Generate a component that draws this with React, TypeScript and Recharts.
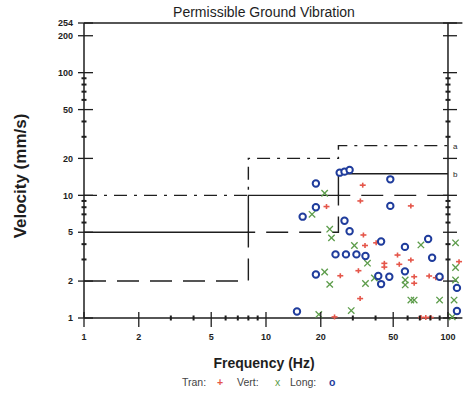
import React from 'react'
import {
  ComposedChart, Line, Scatter, XAxis, YAxis, ReferenceLine, ReferenceDot,
} from 'recharts'

// axis ticks
const FREQ_TICKS = [1, 2, 3, 4, 5, 6, 7, 8, 9, 10, 20, 30, 40, 50, 60, 70, 80, 90, 100]
const FREQ_LABELS = [1, 2, 5, 10, 20, 50, 100]
const VEL_TICKS = [1, 2, 3, 4, 5, 6, 7, 8, 9, 10, 20, 30, 40, 50, 60, 70, 80, 90, 100, 200, 254]
const VEL_LABELS = [1, 2, 5, 10, 20, 50, 100, 200, 254]

// limit curves [Hz, mm/s]
const LIMIT_A: [number, number][] = [[1, 10], [8, 10], [8, 20], [25, 20], [25, 25.4], [100, 25.4]]
const LIMIT_B: [number, number][] = [[1, 5], [8, 5], [8, 10], [25, 10], [25, 15], [100, 15]]
const LIMIT_C: [number, number][] = [[1, 2], [8, 2], [8, 5], [25, 5], [25, 10], [100, 10]]

// measured peaks [Hz, mm/s]
const TRAN: [number, number][] = [
  [34.0, 12.1], [33.0, 9.0], [21.5, 8.1], [62.5, 8.2], [34.3, 4.75], [35.0, 3.9],
  [40.3, 4.1], [52.8, 3.26], [44.7, 2.79], [44.7, 2.6], [54.0, 2.74], [62.5, 2.97],
  [65.2, 2.17], [65.2, 1.92], [78.8, 2.2], [85.7, 2.13], [91.2, 2.1], [115, 2.88],
  [32.2, 2.43], [25.6, 2.21], [32.9, 1.44], [23.8, 1.02], [71.0, 1.01], [75.5, 1.01],
  [80.4, 1.01],
]
const VERT: [number, number][] = [
  [21.0, 10.4], [17.9, 7.0], [22.4, 5.3], [22.9, 4.5], [30.6, 3.9], [36.1, 2.8],
  [21.0, 2.37], [22.4, 1.88], [35.2, 1.91], [39.4, 2.12], [58.2, 2.04], [58.2, 1.86],
  [62.5, 1.4], [65.2, 1.4], [71.0, 3.94], [89.9, 1.4], [110, 4.1], [110, 2.58],
  [110, 2.04], [108, 1.4], [105.6, 1.02], [29.4, 1.15], [19.5, 1.07],
]
const LONG: [number, number][] = [
  [18.8, 12.5], [25.4, 15.3], [27.0, 15.6], [28.8, 16.1], [48.2, 13.5], [48.2, 8.2],
  [18.8, 8.0], [15.9, 6.7], [27.0, 6.2], [28.8, 5.1], [42.9, 4.2], [58.0, 3.8],
  [77.8, 4.4], [24.1, 3.3], [27.5, 3.3], [31.4, 3.3], [35.2, 3.2], [81.8, 3.1],
  [18.8, 2.26], [41.4, 2.2], [47.6, 2.17], [42.9, 1.89], [58.0, 2.4], [89.9, 2.17],
  [112, 1.76], [14.8, 1.13], [112, 1.14],
]

const INK = '#1e1e1e'
const RED = '#e5564a'
const GREEN = '#5c9c4a'
const BLUE = '#1f3c9c'
const FONT = '"Liberation Sans", Arial, sans-serif'

const pts = (a: [number, number][]) => a.map(([f, v]) => ({ f, v }))

function BottomTick({ x, y, payload }: any) {
  const major = FREQ_LABELS.includes(payload.value)
  return (
    <g>
      <line x1={x} x2={x} y1={y - (major ? 6 : 2.5)} y2={y + (major ? 9 : 2.5)}
        stroke={INK} strokeWidth={major ? 1.3 : 2} />
      {major && (
        <text x={x} y={y + 21.5} textAnchor="middle" fontSize={9} fontWeight="bold"
          fill={INK} fontFamily={FONT}>{payload.value}</text>
      )}
    </g>
  )
}

function TopTick({ x, y, payload }: any) {
  const major = FREQ_LABELS.includes(payload.value)
  return (
    <line x1={x} x2={x} y1={y - (major ? 6 : 2.5)} y2={y + (major ? 10 : 2.5)}
      stroke={INK} strokeWidth={major ? 1.3 : 2} />
  )
}

function LeftTick({ x, y, payload }: any) {
  const major = VEL_LABELS.includes(payload.value)
  return (
    <g>
      <line x1={x - (major ? 6 : 2.5)} x2={x + (major ? 9 : 2.5)} y1={y} y2={y}
        stroke={INK} strokeWidth={major ? 1.3 : 2} />
      {major && (
        <text x={x - 11} y={y + 3.2} textAnchor="end" fontSize={9} fontWeight="bold"
          fill={INK} fontFamily={FONT}>{payload.value}</text>
      )}
    </g>
  )
}

const rightTick = (major: boolean) => (p: any) => (
  <line x1={p.cx - (major ? 5 : 2.5)} x2={p.cx + (major ? 9 : 2.5)} y1={p.cy} y2={p.cy}
    stroke={INK} strokeWidth={major ? 1.3 : 2} />
)

const endLabel = (t: string) => (p: any) => (
  <text x={p.cx + 5} y={p.cy + 3} fontSize={8} fill={INK} fontFamily={FONT}>{t}</text>
)

const PlusShape = ({ cx, cy }: any) => (
  <g stroke={RED} strokeWidth={1.6}>
    <line x1={cx - 3} x2={cx + 3} y1={cy} y2={cy} />
    <line x1={cx} x2={cx} y1={cy - 2.5} y2={cy + 2.5} />
  </g>
)

const CrossShape = ({ cx, cy }: any) => (
  <g stroke={GREEN} strokeWidth={1.3}>
    <line x1={cx - 3.2} x2={cx + 3.2} y1={cy - 3.2} y2={cy + 3.2} />
    <line x1={cx - 3.2} x2={cx + 3.2} y1={cy + 3.2} y2={cy - 3.2} />
  </g>
)

const RingShape = ({ cx, cy }: any) => (
  <circle cx={cx} cy={cy} r={3.2} fill="#fff" stroke={BLUE} strokeWidth={2} />
)

export default function App() {
  return (
    <div style={{ position: 'absolute', left: 0, top: 0, width: 468, height: 394, background: '#fff', fontFamily: FONT, color: INK }}>
      <ComposedChart width={468} height={394} margin={{ top: 13, right: 5.6, bottom: 46, left: 24 }}>
        <XAxis
          dataKey="f" type="number" scale="log" domain={[1, 120]} ticks={FREQ_TICKS}
          interval={0} tickSize={0} tickMargin={0} tickLine={false} height={30}
          axisLine={{ stroke: INK, strokeWidth: 1.5 }} tick={<BottomTick />}
        />
        <XAxis
          xAxisId="top" orientation="top" dataKey="f" type="number" scale="log" domain={[1, 120]}
          ticks={FREQ_TICKS} interval={0} tickSize={0} tickMargin={0} tickLine={false} height={10}
          axisLine={{ stroke: INK, strokeWidth: 1.5 }} tick={<TopTick />}
        />
        <YAxis
          dataKey="v" type="number" scale="log" domain={[1, 254]} ticks={VEL_TICKS}
          interval={0} tickSize={0} tickMargin={0} tickLine={false} width={60}
          axisLine={{ stroke: INK, strokeWidth: 1.5 }} tick={<LeftTick />}
        />

        <ReferenceLine x={100} stroke={INK} strokeWidth={1.5} />
        {VEL_TICKS.map(v => (
          <ReferenceDot key={v} x={100} y={v} shape={rightTick(VEL_LABELS.includes(v))} />
        ))}

        <Line data={pts(LIMIT_A)} dataKey="v" type="linear" stroke={INK} strokeWidth={1.4}
          strokeDasharray="13 7 3 7" dot={false} isAnimationActive={false} />
        <Line data={pts(LIMIT_B)} dataKey="v" type="linear" stroke={INK} strokeWidth={1.4}
          dot={false} isAnimationActive={false} />
        <Line data={pts(LIMIT_C)} dataKey="v" type="linear" stroke={INK} strokeWidth={1.4}
          strokeDasharray="22 11" dot={false} isAnimationActive={false} />

        <ReferenceDot x={100} y={25.4} shape={endLabel('a')} />
        <ReferenceDot x={100} y={15} shape={endLabel('b')} />

        <Scatter data={pts(TRAN)} dataKey="v" shape={<PlusShape />} isAnimationActive={false} />
        <Scatter data={pts(VERT)} dataKey="v" shape={<CrossShape />} isAnimationActive={false} />
        <Scatter data={pts(LONG)} dataKey="v" shape={<RingShape />} isAnimationActive={false} />
      </ComposedChart>

      <div style={{ position: 'absolute', left: 64, top: 5, width: 400, textAlign: 'center', fontSize: 14, lineHeight: '14px', whiteSpace: 'nowrap' }}>
        Permissible Ground Vibration
      </div>
      <div style={{ position: 'absolute', left: 20, top: 176, transform: 'translate(-50%, -50%) rotate(-90deg)', fontSize: 17, fontWeight: 'bold', lineHeight: 1, whiteSpace: 'nowrap' }}>
        Velocity (mm/s)
      </div>
      <div style={{ position: 'absolute', left: 64, top: 356, width: 400, textAlign: 'center', fontSize: 14, fontWeight: 'bold', lineHeight: '14px' }}>
        Frequency (Hz)
      </div>
      <div style={{ position: 'absolute', left: 0, top: 376, width: 468, height: 14, fontSize: 10.5, lineHeight: '12px', color: '#444' }}>
        <span style={{ position: 'absolute', left: 182 }}>Tran:</span>
        <span style={{ position: 'absolute', left: 217, color: RED, fontWeight: 'bold' }}>+</span>
        <span style={{ position: 'absolute', left: 237 }}>Vert:</span>
        <span style={{ position: 'absolute', left: 275, color: GREEN }}>x</span>
        <span style={{ position: 'absolute', left: 290 }}>Long:</span>
        <span style={{ position: 'absolute', left: 329, color: BLUE, fontWeight: 'bold' }}>o</span>
      </div>
    </div>
  )
}
